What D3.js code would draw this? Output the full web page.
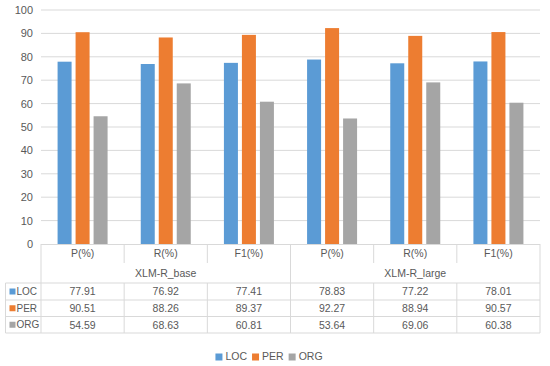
<!DOCTYPE html>
<html>
<head>
<meta charset="utf-8">
<script src="https://cdn.jsdelivr.net/npm/d3@7"></script>
<style>
  body { margin: 0; background: #fff; }
  text { font-family: "Liberation Sans", Arial, sans-serif; fill: #595959; }
</style>
</head>
<body>
<svg id="chart"></svg>
<script>
var categories = ["P(%)", "R(%)", "F1(%)", "P(%)", "R(%)", "F1(%)"];
var groups = ["XLM-R_base", "XLM-R_large"];
var seriesNames = ["LOC", "PER", "ORG"];
var locValues = [77.91, 76.92, 77.41, 78.83, 77.22, 78.01];
var perValues = [90.51, 88.26, 89.37, 92.27, 88.94, 90.57];
var orgValues = [54.59, 68.63, 60.81, 53.64, 69.06, 60.38];
var yTicks = [0, 10, 20, 30, 40, 50, 60, 70, 80, 90, 100];
var colors = ["#5B9BD5", "#ED7D31", "#A5A5A5"];

var seriesValues = [locValues, perValues, orgValues];

var w = 550, h = 366;
var fs = "10.5px";
var margin = { top: 10, left: 41 };
var plotRight = 540;
var plotBottom = 244;
var tableLeft = 5.5;
var rowY = [244, 263, 283, 300, 316.5, 333];

var svg = d3.select("#chart").attr("width", w).attr("height", h);

var yScale = d3.scaleLinear().domain([0, 100]).range([plotBottom, margin.top]);
var xScale = d3.scaleBand().domain(d3.range(categories.length)).range([margin.left, plotRight]);
var xInner = d3.scaleBand().domain(seriesNames)
  .range([(xScale.bandwidth() - 50) / 2, (xScale.bandwidth() + 50) / 2])
  .paddingInner(4 / 18);

// gridlines
svg.append("g").selectAll("line").data(yTicks.slice(1)).enter().append("line")
  .attr("x1", margin.left).attr("x2", plotRight)
  .attr("y1", function(d) { return yScale(d); })
  .attr("y2", function(d) { return yScale(d); })
  .attr("stroke", "#D9D9D9").attr("stroke-width", 1);

// y axis labels
var yAxis = d3.axisLeft(yScale).tickValues(yTicks).tickSize(0).tickPadding(8);
var yg = svg.append("g").attr("transform", "translate(" + margin.left + ",0)").call(yAxis);
yg.select(".domain").remove();
yg.selectAll("text").style("font-size", "11px").attr("fill", "#595959");

// bars
seriesNames.forEach(function(s, si) {
  svg.append("g").selectAll("rect").data(seriesValues[si]).enter().append("rect")
    .attr("x", function(d, i) { return xScale(i) + xInner(s); })
    .attr("y", function(d) { return yScale(d); })
    .attr("width", xInner.bandwidth())
    .attr("height", function(d) { return plotBottom - yScale(d); })
    .attr("fill", colors[si]);
});

// data table
var lineColor = "#D9D9D9";
var tbl = svg.append("g");
function hline(x1, x2, y) {
  tbl.append("line").attr("x1", x1).attr("x2", x2).attr("y1", y).attr("y2", y)
    .attr("stroke", lineColor).attr("stroke-width", 1);
}
function vline(x, y1, y2) {
  tbl.append("line").attr("x1", x).attr("x2", x).attr("y1", y1).attr("y2", y2)
    .attr("stroke", lineColor).attr("stroke-width", 1);
}
hline(margin.left, plotRight, rowY[0] + 0.5);
for (var r = 2; r < rowY.length; r++) hline(tableLeft, plotRight, rowY[r]);
vline(tableLeft, rowY[2], rowY[5]);
vline(margin.left, rowY[0], rowY[5]);
vline(plotRight, rowY[0], rowY[5]);
categories.forEach(function(c, i) {
  if (i === 0) return;
  if (i % 3 === 0) vline(xScale(i), rowY[0], rowY[5]);
  else {
    vline(xScale(i), rowY[0], rowY[1]);
    vline(xScale(i), rowY[2], rowY[5]);
  }
});

tbl.selectAll(".cat").data(categories).enter().append("text")
  .attr("x", function(d, i) { return xScale(i) + xScale.bandwidth() / 2; })
  .attr("y", (rowY[0] + rowY[1]) / 2 + 1)
  .attr("text-anchor", "middle").attr("dominant-baseline", "middle")
  .style("font-size", fs).text(function(d) { return d; });

tbl.selectAll(".grp").data(groups).enter().append("text")
  .attr("x", function(d, i) { return xScale(i * 3) + xScale.bandwidth() * 1.5; })
  .attr("y", (rowY[1] + rowY[2]) / 2 + 1)
  .attr("text-anchor", "middle").attr("dominant-baseline", "middle")
  .style("font-size", fs).text(function(d) { return d; });

seriesNames.forEach(function(s, si) {
  var cy = (rowY[2 + si] + rowY[3 + si]) / 2;
  tbl.append("rect").attr("x", 9.5).attr("y", cy - 3).attr("width", 6).attr("height", 6).attr("fill", colors[si]);
  tbl.append("text").attr("x", 16.5).attr("y", cy + 1)
    .attr("dominant-baseline", "middle").style("font-size", "10px").text(s);
  tbl.append("g").selectAll("text").data(seriesValues[si]).enter().append("text")
    .attr("x", function(d, i) { return xScale(i) + xScale.bandwidth() / 2; })
    .attr("y", cy + 1)
    .attr("text-anchor", "middle").attr("dominant-baseline", "middle")
    .style("font-size", fs).text(function(d) { return d.toFixed(2); });
});

// legend, laid out from measured text widths and centred
var leg = svg.append("g");
var x = 0;
seriesNames.forEach(function(s, si) {
  leg.append("rect").attr("x", x).attr("y", 353.5).attr("width", 7).attr("height", 7).attr("fill", colors[si]);
  var t = leg.append("text").attr("x", x + 10).attr("y", 357.5)
    .attr("dominant-baseline", "middle").style("font-size", fs).text(s);
  x += 10 + t.node().getComputedTextLength() + 5;
});
leg.attr("transform", "translate(" + (269 - (x - 5) / 2) + ",0)");
</script>
</body>
</html>
